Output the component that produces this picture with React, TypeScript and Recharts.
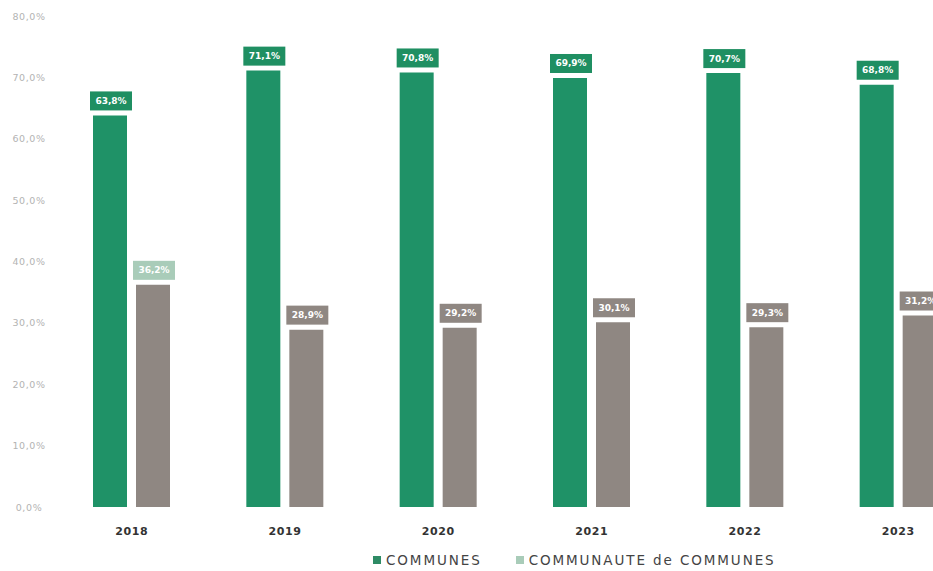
import { Bar, BarChart, LabelList, Legend, XAxis, YAxis } from "recharts"

const years = ["2018", "2019", "2020", "2021", "2022", "2023"]
const communes = [63.8, 71.1, 70.8, 69.9, 70.7, 68.8]
const communaute = [36.2, 28.9, 29.2, 30.1, 29.3, 31.2]
const yTicks = [0, 10, 20, 30, 40, 50, 60, 70, 80]

const GREEN = "#1f9267"
const GREY = "#8f8782"
const LIGHT = "#a9ccb9"
// label box colour per year for the second series (2018 one is the pale green)
const communauteLabelFill = [LIGHT, GREY, GREY, GREY, GREY, GREY]

const data = years.map((year, i) => ({
  year,
  communes: communes[i],
  communaute: communaute[i],
}))

const FONT = "'DejaVu Sans', sans-serif"

const fmt = (v: number) => v.toFixed(1).replace(".", ",") + "%"

const makeLabel = (fills: string[] | string) => (props: any) => {
  const { x, y, width, value, index } = props
  const fill = Array.isArray(fills) ? fills[index] : fills
  const cx = x + width / 2 + 1
  const w = 42
  const h = 19
  return (
    <g>
      <rect x={cx - w / 2} y={y - 5 - h} width={w} height={h} fill={fill} />
      <text
        x={cx}
        y={y - 5 - h / 2}
        textAnchor="middle"
        dominantBaseline="central"
        fill="#fff"
        fontSize={9}
        fontWeight="bold"
        fontFamily={FONT}
      >
        {fmt(value)}
      </text>
    </g>
  )
}

const YTick = ({ y, payload }: any) => (
  <text
    x={29}
    y={y}
    textAnchor="middle"
    dominantBaseline="central"
    fill="#b3b3b3"
    fontSize={9.5}
    letterSpacing={0.6}
    fontFamily={FONT}
  >
    {fmt(payload.value)}
  </text>
)

const XTick = ({ x, y, payload }: any) => (
  <text
    x={x}
    y={y + 24}
    textAnchor="middle"
    dominantBaseline="central"
    fill="#333"
    fontSize={11}
    fontWeight="bold"
    letterSpacing={0.6}
    fontFamily={FONT}
  >
    {payload.value}
  </text>
)

const LegendContent = () => (
  <div
    style={{
      display: "flex",
      alignItems: "center",
      paddingLeft: 373,
      height: 20,
      fontFamily: FONT,
      fontSize: 13.5,
      color: "#444",
      letterSpacing: 1.9,
      whiteSpace: "nowrap",
    }}
  >
    <span style={{ width: 8, height: 8, background: "#2e8b65", display: "inline-block", marginRight: 5 }} />
    <span>COMMUNES</span>
    <span style={{ width: 8, height: 8, background: LIGHT, display: "inline-block", marginLeft: 34, marginRight: 5 }} />
    <span>COMMUNAUTE de COMMUNES</span>
  </div>
)

export default function App() {
  return (
    <div style={{ position: "fixed", top: 0, left: 0, width: 933, height: 571, overflow: "hidden", background: "#fff" }}>
      <BarChart
        width={975}
        height={571}
        data={data}
        margin={{ top: 16, right: 0, left: 0, bottom: 0 }}
        barGap={9}
        barSize={34}
      >
        <XAxis
          dataKey="year"
          axisLine={false}
          tickLine={false}
          tickSize={0}
          tickMargin={0}
          height={44}
          tick={<XTick />}
          interval={0}
        />
        <YAxis
          domain={[0, 80]}
          ticks={yTicks}
          axisLine={false}
          tickLine={false}
          width={55}
          tick={<YTick />}
          interval={0}
        />
        <Legend
          verticalAlign="bottom"
          height={20}
          content={<LegendContent />}
          wrapperStyle={{ left: 0, top: 550, width: 975 }}
        />
        <Bar dataKey="communes" fill={GREEN} isAnimationActive={false}>
          <LabelList dataKey="communes" content={makeLabel("#1f8f62")} />
        </Bar>
        <Bar dataKey="communaute" fill={GREY} isAnimationActive={false}>
          <LabelList dataKey="communaute" content={makeLabel(communauteLabelFill)} />
        </Bar>
      </BarChart>
    </div>
  )
}
